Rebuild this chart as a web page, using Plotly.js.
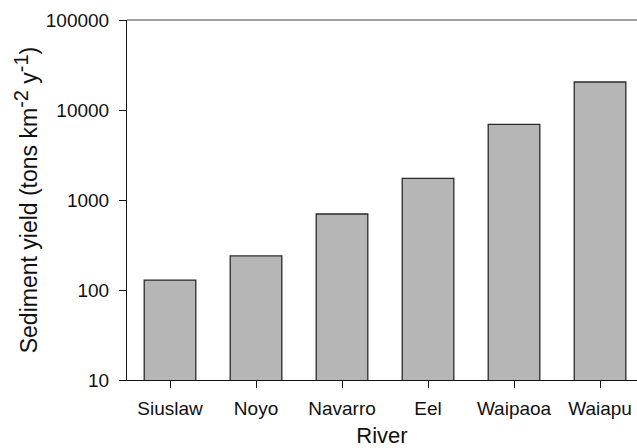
<!DOCTYPE html>
<html>
<head>
<meta charset="utf-8">
<script src="https://cdn.plot.ly/plotly-3.0.1.min.js"></script>
<style>html,body{margin:0;padding:0;background:#fff;}#chart{width:637px;height:448px;}</style>
</head>
<body>
<div id="chart"></div>
<script>
const rivers = ["Siuslaw", "Noyo", "Navarro", "Eel", "Waipaoa", "Waiapu"];
const sedimentYield = [129, 239, 699, 1742, 6935, 20460];
const yTickVals = [10, 100, 1000, 10000, 100000];
const yTickText = ["10", "100", "1000", "10000", "100000"];

const trace = {
  type: "bar",
  x: rivers.map((_, i) => i),
  y: sedimentYield,
  width: 0.6,
  marker: { color: "#b6b6b6", line: { color: "#2a2a2a", width: 1.3 } },
  hoverinfo: "none"
};

const fontFam = "Liberation Sans, Arial, Helvetica, sans-serif";
const layout = {
  width: 637,
  height: 448,
  margin: { l: 127, r: 0, t: 20, b: 68 },
  paper_bgcolor: "#fff",
  plot_bgcolor: "#fff",
  showlegend: false,
  font: { family: fontFam, size: 19, color: "#111" },
  xaxis: {
    range: [-0.5, 5.43],
    tickvals: rivers.map((_, i) => i),
    ticktext: rivers,
    showgrid: false,
    zeroline: false,
    showline: true,
    linecolor: "#111",
    linewidth: 1,
    ticks: "outside",
    ticklen: 7,
    tickcolor: "#111",
    ticklabelstandoff: 4,
    tickfont: { family: fontFam, size: 19, color: "#111" },
    title: { text: "River", font: { family: fontFam, size: 22, color: "#111" }, standoff: 10 }
  },
  yaxis: {
    type: "log",
    range: [1, 5],
    tickvals: yTickVals,
    ticktext: yTickText,
    showgrid: false,
    zeroline: false,
    showline: true,
    linecolor: "#111",
    linewidth: 1,
    ticks: "outside",
    ticklen: 7,
    tickcolor: "#111",
    ticklabelstandoff: 6,
    tickfont: { family: fontFam, size: 19, color: "#111" },
    title: { text: "Sediment yield (tons km<sup><span style=\"font-size:20px\">-2</span></sup> y<sup><span style=\"font-size:20px\">-1</span></sup>)", font: { family: fontFam, size: 23, color: "#111" }, standoff: 1 }
  },
  shapes: [{
    type: "line", xref: "paper", yref: "paper",
    x0: 0, x1: 1, y0: 1, y1: 1,
    line: { color: "#444", width: 1.2 }
  }]
};

Plotly.newPlot("chart", [trace], layout, { staticPlot: true, displayModeBar: false });
</script>
</body>
</html>
